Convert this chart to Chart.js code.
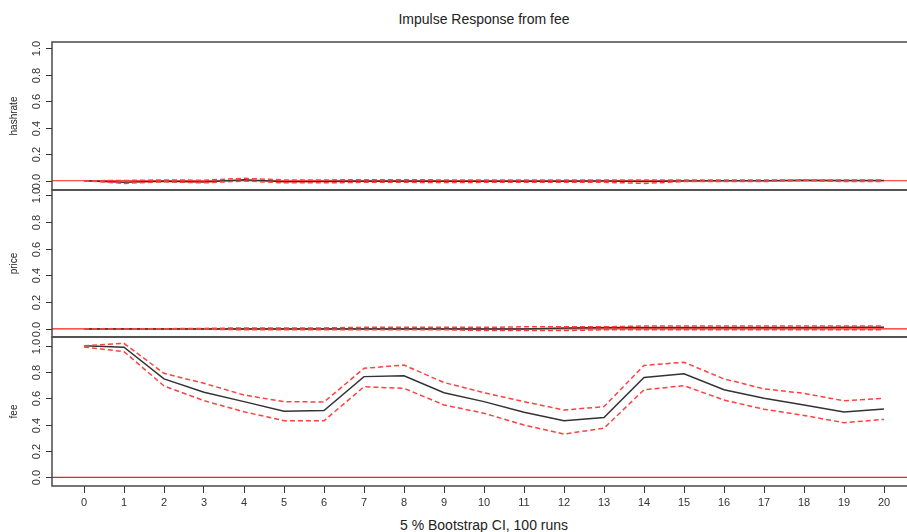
<!DOCTYPE html>
<html>
<head>
<meta charset="utf-8">
<script src="https://cdn.jsdelivr.net/npm/chart.js@4"></script>
<style>
  html, body { margin:0; padding:0; background:#fff; overflow:hidden; }
  #wrap { position:relative; width:907px; height:532px; font-family:"Liberation Sans", Arial, sans-serif; color:#222; }
  canvas { position:absolute; left:0; top:0; }
  .lbl { position:absolute; white-space:nowrap; text-align:center; }
</style>
</head>
<body>
<div id="wrap">
  <div class="lbl" style="left:284px;width:400px;top:11px;font-size:14px;">Impulse Response from fee</div>
  <div class="lbl" style="left:284px;width:400px;top:517px;font-size:14px;">5 % Bootstrap CI, 100 runs</div>
  <canvas id="c1" width="907" height="532"></canvas>
  <canvas id="c2" width="907" height="532"></canvas>
  <canvas id="c3" width="907" height="532"></canvas>
</div>
<script>
// ---- data ----
const steps = [0,1,2,3,4,5,6,7,8,9,10,11,12,13,14,15,16,17,18,19,20];
const yTicks = [0, 0.2, 0.4, 0.6, 0.8, 1.0];

const hashrateIrf   = [0,-0.012,-0.004,-0.010,0.008,-0.008,-0.006,-0.003,-0.003,-0.004,-0.004,-0.004,-0.003,-0.002,-0.006,-0.002,-0.001,0,0.004,0.001,0.001];
const hashrateUpper = [0,0.002,0.006,0.004,0.018,0.006,0.006,0.008,0.008,0.006,0.006,0.006,0.006,0.006,0.005,0.006,0.006,0.006,0.006,0.006,0.006];
const hashrateLower = [0,-0.020,-0.008,-0.016,-0.002,-0.016,-0.016,-0.012,-0.012,-0.014,-0.012,-0.012,-0.012,-0.012,-0.020,-0.006,-0.006,-0.006,0.002,-0.006,-0.006];

const priceIrf   = [0,0,0,0,0,0,0,0,0,0,0,0,0.008,0.010,0.010,0.010,0.010,0.010,0.010,0.012,0.012];
const priceUpper = [0,0,0.002,0.004,0.008,0.008,0.008,0.012,0.012,0.012,0.012,0.016,0.016,0.016,0.022,0.022,0.022,0.022,0.022,0.022,0.022];
const priceLower = [0,-0.002,-0.002,-0.002,-0.006,-0.006,-0.006,-0.006,-0.006,-0.006,-0.012,-0.012,-0.012,-0.006,-0.006,-0.006,-0.006,-0.006,-0.006,-0.006,-0.006];

const feeIrf   = [1.000,0.988,0.748,0.646,0.575,0.502,0.507,0.765,0.772,0.643,0.575,0.494,0.430,0.454,0.758,0.786,0.665,0.600,0.550,0.496,0.519];
const feeUpper = [1.000,1.018,0.790,0.714,0.625,0.575,0.572,0.828,0.853,0.720,0.643,0.575,0.511,0.537,0.850,0.874,0.748,0.672,0.638,0.581,0.600];
const feeLower = [0.990,0.955,0.694,0.582,0.498,0.430,0.430,0.688,0.676,0.550,0.487,0.397,0.329,0.373,0.665,0.696,0.587,0.517,0.470,0.415,0.440];

// ---- drawing ----
const FONT = '"Liberation Sans", Arial, sans-serif';
const toXY = arr => arr.map((v,i) => ({x: steps[i], y: v}));

const panelPlugin = {
  id: 'panel',
  beforeDatasetsDraw(chart) {
    const {ctx, chartArea:a, scales:{y}} = chart;
    const y0 = y.getPixelForValue(0);
    ctx.save();
    ctx.strokeStyle = '#ff1a1a';
    ctx.lineWidth = 1.2;
    ctx.beginPath(); ctx.moveTo(a.left, y0); ctx.lineTo(a.right, y0); ctx.stroke();
    ctx.restore();
  },
  afterDraw(chart, args, opts) {
    const {ctx, chartArea:a, scales:{y}} = chart;
    ctx.save();
    // box
    ctx.strokeStyle = '#4a4a4a';
    ctx.lineWidth = 1.5;
    ctx.beginPath();
    ctx.moveTo(a.right + 2, a.top); ctx.lineTo(a.left, a.top); ctx.lineTo(a.left, a.bottom); ctx.lineTo(a.right + 2, a.bottom);
    ctx.stroke();
    // y ticks
    ctx.strokeStyle = '#333';
    ctx.lineWidth = 1;
    ctx.fillStyle = '#333';
    ctx.font = '11px ' + FONT;
    ctx.textAlign = 'center';
    ctx.textBaseline = 'middle';
    yTicks.forEach(v => {
      const py = Math.round(y.getPixelForValue(v)) + 0.5;
      ctx.beginPath(); ctx.moveTo(a.left - 6, py); ctx.lineTo(a.left, py); ctx.stroke();
      ctx.save();
      ctx.translate(37, py);
      ctx.rotate(-Math.PI/2);
      ctx.fillText(v.toFixed(1), 0, 0);
      ctx.restore();
    });
    // axis title
    ctx.save();
    ctx.font = '10px ' + FONT;
    ctx.fillStyle = '#222';
    ctx.translate(14, (a.top + a.bottom) / 2);
    ctx.rotate(-Math.PI/2);
    ctx.fillText(opts.title, 0, 0);
    ctx.restore();
    ctx.restore();
  }
};

function makeChart(id, title, irf, upper, lower, padTop, padBottom, showX, ymin, ymax) {
  const red = {borderColor:'#ff4040', borderWidth:1.5, borderDash:[5,3], pointRadius:0, tension:0, fill:false};
  return new Chart(document.getElementById(id), {
    type: 'line',
    data: {
      datasets: [
        Object.assign({label:'upper', data: toXY(upper)}, red),
        Object.assign({label:'lower', data: toXY(lower)}, red),
        {label: title, data: toXY(irf), borderColor:'#333', borderWidth:1.5, pointRadius:0, tension:0, fill:false}
      ]
    },
    options: {
      responsive: false,
      animation: false,
      layout: {padding: {top: padTop, bottom: padBottom, left: 0, right: 0}},
      plugins: {legend: {display:false}, tooltip: {enabled:false}, panel: {title: title}},
      scales: {
        x: {
          type: 'linear', min: -0.8, max: 20.575,
          display: showX,
          afterBuildTicks: s => { s.ticks = steps.map(v => ({value: v})); },
          afterFit: s => { if (showX) s.height = 532 - 486; },
          border: {display:false},
          grid: {drawOnChartArea:false, drawTicks:true, tickLength:7, color:'#333'},
          ticks: {font:{family:FONT, size:11}, color:'#333', padding:3, maxRotation:0, autoSkip:false,
                  callback: v => String(v)}
        },
        y: {
          type: 'linear', min: ymin, max: ymax,
          afterFit: s => { s.width = 52; },
          border: {display:false},
          grid: {display:false},
          ticks: {display:false}
        }
      }
    },
    plugins: [panelPlugin]
  });
}

makeChart('c1', 'hashrate', hashrateIrf, hashrateUpper, hashrateLower, 42, 532-190, false, -0.070, 1.048);
makeChart('c2', 'price', priceIrf, priceUpper, priceLower, 190, 532-337, false, -0.060, 1.037);
makeChart('c3', 'fee', feeIrf, feeUpper, feeLower, 337, 0, true, -0.066, 1.066);
</script>
</body>
</html>
